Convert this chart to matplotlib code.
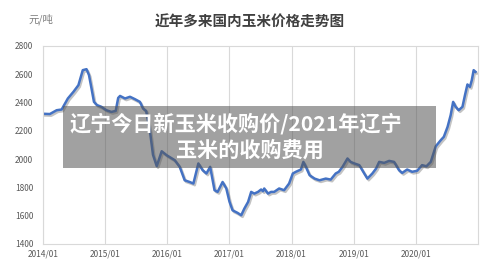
import matplotlib.pyplot as plt
import matplotlib.patheffects as pe
from matplotlib.patches import Rectangle

plt.rcParams['font.family'] = ['Noto Sans CJK SC', 'DejaVu Sans']

# time as fractional years since 2014/01, price in yuan per ton
t = [2014.00, 2014.11, 2014.22, 2014.30, 2014.40, 2014.49, 2014.57, 2014.64, 2014.70, 2014.74,
     2014.78, 2014.82, 2014.87, 2014.94, 2015.02, 2015.10, 2015.17, 2015.21, 2015.24, 2015.32,
     2015.40, 2015.48, 2015.56, 2015.61, 2015.66, 2015.72, 2015.77, 2015.83, 2015.91, 2015.99,
     2016.12, 2016.20, 2016.28, 2016.36, 2016.42, 2016.50, 2016.57, 2016.63, 2016.69, 2016.76,
     2016.81, 2016.89, 2016.95, 2017.00, 2017.05, 2017.13, 2017.19, 2017.24, 2017.30, 2017.35,
     2017.40, 2017.46, 2017.51, 2017.54, 2017.56, 2017.62, 2017.67, 2017.72, 2017.80, 2017.88,
     2017.96, 2018.02, 2018.07, 2018.15, 2018.19, 2018.23, 2018.29, 2018.37, 2018.45, 2018.55,
     2018.63, 2018.71, 2018.76, 2018.82, 2018.90, 2018.95, 2019.01, 2019.09, 2019.17, 2019.22,
     2019.30, 2019.36, 2019.41, 2019.49, 2019.57, 2019.65, 2019.73, 2019.78, 2019.86, 2019.94,
     2020.02, 2020.10, 2020.17, 2020.24, 2020.32, 2020.40, 2020.45, 2020.51, 2020.56, 2020.60,
     2020.64, 2020.69, 2020.75, 2020.79, 2020.83, 2020.87, 2020.90, 2020.93, 2020.96]
price = [2320, 2318, 2345, 2350, 2428, 2475, 2522, 2628, 2635, 2593,
         2500, 2404, 2381, 2369, 2345, 2333, 2340, 2432, 2446, 2428,
         2440, 2423, 2404, 2357, 2340, 2200, 2030, 1950, 2055, 2027,
         1992, 1945, 1850, 1838, 1827, 1969, 1921, 1898, 1945, 1780,
         1768, 1838, 1792, 1700, 1638, 1620, 1603, 1650, 1697, 1768,
         1756, 1768, 1785, 1773, 1792, 1756, 1768, 1768, 1792, 1780,
         1827, 1898, 1910, 1926, 1980, 1945, 1886, 1862, 1850, 1862,
         1855, 1898, 1910, 1945, 2004, 1980, 1969, 1957, 1898, 1862,
         1898, 1933, 1980, 1973, 1987, 1980, 1921, 1902, 1926, 1910,
         1917, 1957, 1949, 1980, 2090, 2133, 2157, 2227, 2310, 2404,
         2369, 2345, 2369, 2451, 2527, 2510, 2557, 2628, 2616]

years = [2014, 2015, 2016, 2017, 2018, 2019, 2020]
year_labels = ['2014/01', '2015/01', '2016/01', '2017/01', '2018/01', '2019/01', '2020/01']
y_ticks = [1400, 1600, 1800, 2000, 2200, 2400, 2600, 2800]

fig = plt.figure(figsize=(5, 2.76), dpi=100)
ax = fig.add_axes([0.086, 0.116, 0.87, 0.718])

ax.plot(t, price, color='#4472C4', linewidth=1.8,
        path_effects=[pe.SimpleLineShadow(offset=(1, -1.2), shadow_color='#555555', alpha=0.35),
                      pe.Normal()])

ax.set_xlim(2014, 2021)
ax.set_ylim(1400, 2800)
ax.set_xticks(years)
ax.set_xticklabels(year_labels)
ax.set_yticks(y_ticks)
ax.tick_params(length=0, labelsize=6, labelcolor='#595959')
ax.tick_params(axis='y', pad=7)
ax.tick_params(axis='x', pad=4)
ax.grid(True, axis='x', color='#d9d9d9', linewidth=0.8)
for s in ax.spines.values():
    s.set_color('#d9d9d9')
    s.set_linewidth(0.8)

fig.text(0.5, 0.92, '近年多来国内玉米价格走势图', ha='center', va='center',
         fontsize=10.5, fontweight='bold', color='#404040')
fig.text(0.056, 0.93, '元/吨', ha='left', va='center', fontsize=7.5, color='#7f7f7f')

# grey overlay caption
fig.patches.append(Rectangle((0.125, 0.39), 0.747, 0.226, transform=fig.transFigure,
                             facecolor='#555555', alpha=0.55, edgecolor='none', zorder=5))
fig.text(0.472, 0.553, '辽宁今日新玉米收购价/2021年辽宁', ha='center', va='center',
         fontsize=15.2, fontweight='heavy', color='white', zorder=6)
fig.text(0.5, 0.457, '玉米的收购费用', ha='center', va='center',
         fontsize=15.2, fontweight='heavy', color='white', zorder=6)

fig.savefig('out.png', dpi=100)
